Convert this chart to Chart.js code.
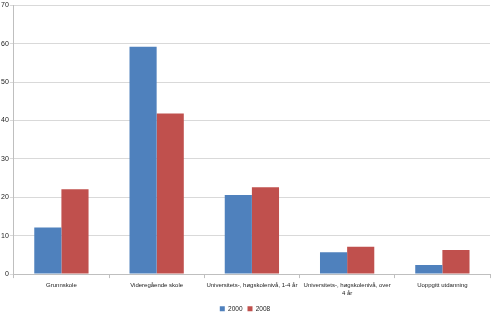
<!DOCTYPE html>
<html>
<head>
<meta charset="utf-8">
<script src="https://cdn.jsdelivr.net/npm/chart.js@4"></script>
<style>
  html, body { margin: 0; padding: 0; background: #fff; }
  #wrap { width: 500px; height: 325px; position: relative; }
</style>
</head>
<body>
<div id="wrap"><canvas id="utdChart"></canvas></div>
<script>
// Kategorier og verdier (prosent)
const kategorier = [
    'Grunnskole',
    'Videregående skole',
    'Universitets-, høgskolenivå, 1-4 år',
    ['Universitets-, høgskolenivå, over', '4 år'],
    'Uoppgitt utdanning'
];
const verdier2000 = [12.1, 59.2, 20.6, 5.7, 2.4];
const verdier2008 = [22.1, 41.8, 22.6, 7.1, 6.3];
const yTicks = [0, 10, 20, 30, 40, 50, 60, 70];

const fonten = { family: "'Liberation Sans', sans-serif", size: 6 };

document.addEventListener('DOMContentLoaded', function() {
    const ctx = document.getElementById('utdChart');
    new Chart(ctx.getContext('2d'), {
        type: 'bar',
        data: {
            labels: kategorier,
            datasets: [{
                label: '2000',
                data: verdier2000,
                backgroundColor: '#4F81BD',
                borderWidth: 0
            }, {
                label: '2008',
                data: verdier2008,
                backgroundColor: '#C0504D',
                borderWidth: 0
            }]
        },
        options: {
            responsive: true,
            maintainAspectRatio: false,
            animation: false,
            layout: { padding: { top: 3, right: 10, left: 0, bottom: 3 } },
            datasets: {
                bar: { barPercentage: 1, categoryPercentage: 0.57 }
            },
            scales: {
                x: {
                    grid: {
                        offset: true,
                        drawOnChartArea: false,
                        drawTicks: true,
                        tickLength: 4,
                        color: '#bfbfbf'
                    },
                    border: { color: '#bfbfbf' },
                    ticks: {
                        color: '#222',
                        font: fonten,
                        maxRotation: 0,
                        autoSkip: false,
                        padding: 4
                    }
                },
                y: {
                    min: 0,
                    max: 70,
                    afterBuildTicks: function(axis) {
                        axis.ticks = yTicks.map(v => ({ value: v }));
                    },
                    grid: {
                        color: '#d9d9d9',
                        drawTicks: true,
                        tickLength: 4
                    },
                    border: { color: '#bfbfbf' },
                    ticks: {
                        color: '#222',
                        font: { family: fonten.family, size: 7 },
                        padding: 1
                    }
                }
            },
            plugins: {
                legend: {
                    position: 'bottom',
                    labels: {
                        boxWidth: 5,
                        boxHeight: 5,
                        padding: 5,
                        color: '#222',
                        font: { family: fonten.family, size: 6.5 }
                    }
                },
                tooltip: { enabled: false }
            }
        }
    });
});
</script>
</body>
</html>
